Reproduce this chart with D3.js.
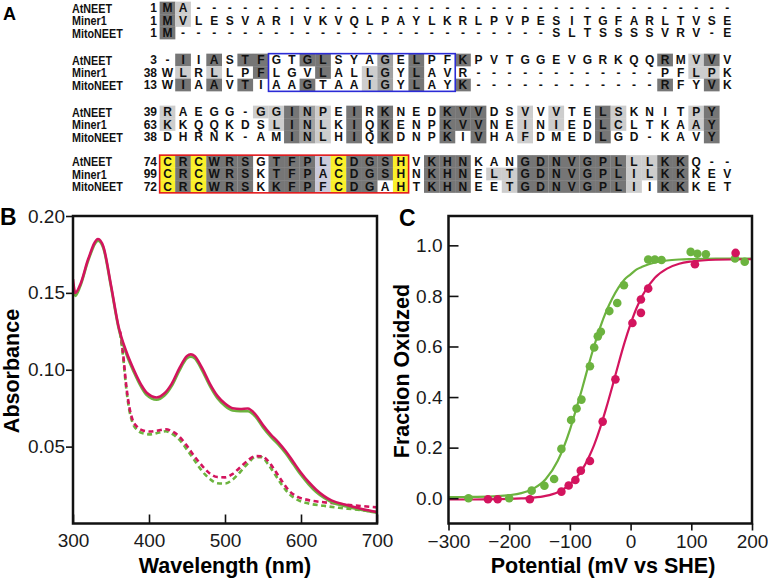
<!DOCTYPE html>
<html>
<head>
<meta charset="utf-8">
<script src="https://cdn.jsdelivr.net/npm/d3@7"></script>
<style>
  body { margin: 0; background: #fff; }
  svg { display: block; font-family: 'Liberation Sans', Arial, Helvetica, sans-serif; }
</style>
</head>
<body>
<svg id="fig" width="768" height="580"></svg>
<script>
'use strict';

/*
    Panel A: alignment of AtNEET / Miner1 / MitoNEET, panel B: absorbance spectra,
    panel C: redox titration
*/

// ---------- data : panel A ----------
var seqNames = ['AtNEET', 'Miner1', 'MitoNEET'];
var blockStarts = [[1, 1, 1], [3, 38, 13], [39, 63, 38], [74, 99, 72]];
var blockSeqs = [
    ['MA' + '-----' + '-----' + '-----' + '-----' + '-----' + '-----' + '-----',
     'MVLESVARIVKVQLPAYLKRLPVPESITGFARLTVSE',
     'M' + '------' + '------' + '------' + '------' + 'SLTSSSSVRV-E'],
    ['-IIASTFGTGLSYAGELPFKPVTGGEVGRKQQRMVVV',
     'WLRLLPFLGVLALLGYLAVR------------PFLPK',
     'WIAAVTIAAGTAAIGYLAYK------------RFYVK'],
    ['RAEGG-GGINPEIRKNEDKVVDSVVVTELSKNITPY',
     'KKQQKDSLINLKIQKENPKVVNEINIEDLCLTKAAY',
     'DHRNK-AMINLHIQKDNPKIVHAFDMEDLGD-KAVY'],
    ['CRCWRSGTFPLCDGSHVKHNKANGDNVGPLLLKKQ--',
     'CRCWRSKTFPACDGSHNKHNELTGDNVGPLILKKKEV',
     'CRCWRSKKFPFCDGAHTKHNEETGDNVGPLIIKKKET']
];
// conservation class per residue: d identical, m strong, l similar, b weak, y cysteine/histidine ligand
var blockShades = [
    ['dl', 'dl', 'd'],
    ['.d.d.dd..d' + 'd...m.d..d' + '..........' + '..d.ld.',
     '.l.l..d...' + 'd..lm.d...' + '..........' + '....ll.',
     '.d.d.d...d' + '...lm.d..d' + '..........' + '..d..d.'],
    ['l.....lldm' + 'l.d.d...dd' + 'd..l.l..dl' + '....ld',
     'l......ldm' + 'l.d.d...dd' + 'd..l.l..dl' + '....ld',
     '........dm' + 'l.d.d...d.' + 'd..l....d.' + '.....d'],
    ['ydyddd.ddd' + 'bydddy.ddd' + '...ddddddd' + 'lldd...',
     'ydyddd.ddd' + 'bydddy.ddd' + '.llddddddd' + 'lldd...',
     'ydyddd.ddd' + 'bydd.y.ddd' + '..lddddddd' + 'l.dd...']
];
var blueBoxCols = [7, 18];   // block 2
var redBoxCols = [0, 15];    // block 4

// ---------- data : panel B ----------
var wlSolid = [300, 303, 310, 320, 333, 340, 350, 360, 370, 380, 390, 397, 410, 420, 430, 440, 450, 455, 460, 470,
               480, 490, 500, 510, 520, 530, 540, 550, 560, 570, 580, 590, 600, 610, 620, 630, 640, 660, 680, 700];
var pinkSolid = [0.159, 0.150, 0.156, 0.172, 0.185, 0.180, 0.155, 0.128, 0.112, 0.100, 0.090, 0.085, 0.082, 0.0845,
                 0.091, 0.101, 0.109, 0.110, 0.109, 0.101, 0.091, 0.083, 0.078, 0.075, 0.0745, 0.0748, 0.071, 0.064,
                 0.058, 0.053, 0.047, 0.040, 0.033, 0.027, 0.022, 0.018, 0.015, 0.012, 0.0095, 0.0075];
var greenSolid = [0.155, 0.148, 0.155, 0.171, 0.184, 0.179, 0.154, 0.127, 0.1105, 0.0985, 0.0885, 0.0835, 0.0805,
                  0.083, 0.0895, 0.0995, 0.1075, 0.1085, 0.1075, 0.0995, 0.0895, 0.0815, 0.0765, 0.0735, 0.073, 0.073,
                  0.0695, 0.0625, 0.0565, 0.0515, 0.0455, 0.0385, 0.0315, 0.0255, 0.0205, 0.0168, 0.014, 0.011,
                  0.0088, 0.007];
var wlDashed = [362, 366, 370, 374, 378, 384, 392, 402, 412, 422, 430, 440, 450, 460, 470, 480, 490, 500, 510, 520,
                530, 540, 548, 556, 565, 575, 585, 595, 610, 630, 650, 670, 700];
var pinkDashed = [0.125, 0.110, 0.090, 0.076, 0.068, 0.063, 0.0605, 0.0598, 0.0605, 0.0613, 0.060, 0.0565, 0.0505,
                  0.0435, 0.0375, 0.0325, 0.0302, 0.030, 0.0322, 0.0365, 0.041, 0.0438, 0.0437, 0.041, 0.035, 0.0275,
                  0.021, 0.0175, 0.0152, 0.0138, 0.0128, 0.0118, 0.0105];
var greenDashed = [0.124, 0.108, 0.088, 0.074, 0.066, 0.061, 0.0587, 0.058, 0.059, 0.060, 0.0585, 0.0545, 0.048,
                   0.041, 0.034, 0.029, 0.0262, 0.026, 0.0285, 0.0335, 0.039, 0.0432, 0.0432, 0.039, 0.0325, 0.025,
                   0.019, 0.0155, 0.013, 0.0115, 0.0102, 0.0092, 0.0075];
var wlTicks = [300, 400, 500, 600, 700];
var absTicks = [0.05, 0.10, 0.15, 0.20];

// ---------- data : panel C ----------
var greenPts = [[-267, 0.0], [-200, 0.0], [-163, 0.03], [-142, 0.049], [-126, 0.076], [-114, 0.195], [-98, 0.309],
                [-89, 0.355], [-81, 0.39], [-67, 0.522], [-60, 0.596], [-54, 0.64], [-49, 0.658], [-35, 0.74],
                [-22, 0.772], [-11, 0.842], [29, 0.944], [40, 0.944], [51, 0.942], [99, 0.974], [110, 0.967],
                [124, 0.965], [172, 0.948], [188, 0.935]];
var pinkPts = [[-235, -0.004], [-219, -0.004], [-166, -0.004], [-114, 0.026], [-102, 0.05], [-91, 0.072],
               [-82, 0.109], [-67, 0.147], [-46, 0.303], [-25, 0.47], [3, 0.693], [17, 0.733], [17, 0.786],
               [29, 0.829], [106, 0.925], [173, 0.97]];
var fitE = [-300, -260, -220, -200, -180, -160, -140, -120, -100, -90, -80, -70, -60, -50, -40, -30, -20, -10, 0,
            10, 20, 40, 60, 80, 100, 140, 200];
var greenFit = [0.004, 0.005, 0.008, 0.012, 0.02, 0.038, 0.075, 0.148, 0.27, 0.35, 0.432, 0.52, 0.602, 0.677, 0.74,
                0.791, 0.833, 0.865, 0.885, 0.905, 0.916, 0.932, 0.94, 0.944, 0.946, 0.948, 0.948];
var pinkFit = [-0.005, -0.005, -0.004, -0.003, -0.001, 0.002, 0.009, 0.024, 0.055, 0.079, 0.112, 0.156, 0.211, 0.279,
               0.358, 0.443, 0.531, 0.615, 0.689, 0.753, 0.804, 0.872, 0.908, 0.927, 0.936, 0.943, 0.945];
var potTicks = [-300, -200, -100, 0, 100, 200];
var fracTicks = [0.0, 0.2, 0.4, 0.6, 0.8, 1.0];

// ---------- style ----------
var PINK = '#d3145e';
var GREEN = '#6cb33f';
var shadeColor = { d: '#767676', m: '#a2a2a2', l: '#cdcdcd', b: '#cacadb', y: '#faf02a' };

var svg = d3.select('#fig');

// ===== panel A =====
var colX = d3.scaleLinear().domain([0, 36]).range([167.5, 167.5 + 36 * 15.55]);
var blockTop = [8, 60, 112, 161.5];
var rowStep = 12.5;
var cellW = 15.7, cellH = 12.7;
var gA = svg.append('g');

//first the shaded cells, then the letters on top
var cells = [];
blockSeqs.forEach(function (rows, b) {
    rows.forEach(function (seq, r) {
        seq.split('').forEach(function (ch, i) {
            cells.push({ ch: ch, col: i, y: blockTop[b] + r * rowStep, s: blockShades[b][r].charAt(i) || '.' });
        });
    });
});

gA.selectAll('.cell')
    .data(cells.filter(function (d) { return d.s !== '.'; }))
  .enter().append('rect')
    .attr('class', 'cell')
    .attr('x', function (d) { return colX(d.col) - cellW / 2; })
    .attr('y', function (d) { return d.y - cellH / 2; })
    .attr('width', cellW)
    .attr('height', cellH)
    .attr('fill', function (d) { return shadeColor[d.s]; });

gA.selectAll('.res')
    .data(cells)
  .enter().append('text')
    .attr('class', 'res')
    .attr('x', function (d) { return colX(d.col); })
    .attr('y', function (d) { return d.y; })
    .attr('dy', '0.36em')
    .attr('text-anchor', 'middle')
    .attr('font-size', 12)
    .attr('font-weight', 'bold')
    .attr('fill', '#111')
    .text(function (d) { return d.ch; });

blockStarts.forEach(function (starts, b) {
    starts.forEach(function (n, r) {
        var y = blockTop[b] + r * rowStep;
        var nm = gA.append('text')
            .attr('x', 72).attr('y', y).attr('dy', '0.36em')
            .attr('font-size', 12.5).attr('font-weight', 'bold').attr('fill', '#111')
            .text(seqNames[r]);
        nm.attr('textLength', nm.node().getComputedTextLength() * 0.86).attr('lengthAdjust', 'spacingAndGlyphs');
        gA.append('text')
            .attr('x', 157).attr('y', y).attr('dy', '0.36em')
            .attr('text-anchor', 'end')
            .attr('font-size', 12).attr('font-weight', 'bold').attr('fill', '#111')
            .text(n);
    });
});

//boxes round the transmembrane segment and the CDGSH motif
function motifBox(cols, b, colour) {
    gA.append('rect')
        .attr('x', colX(cols[0]) - cellW / 2)
        .attr('y', blockTop[b] - cellH / 2)
        .attr('width', colX(cols[1]) - colX(cols[0]) + cellW)
        .attr('height', 2 * rowStep + cellH)
        .attr('fill', 'none')
        .attr('stroke', colour)
        .attr('stroke-width', 1.6);
}
motifBox(blueBoxCols, 1, '#2b2bd6');
motifBox(redBoxCols, 3, '#e3191c');

// panel letters
svg.append('text').attr('x', 3).attr('y', 20).attr('font-size', 18).attr('font-weight', 'bold').text('A');
svg.append('text').attr('x', 0).attr('y', 225).attr('font-size', 23).attr('font-weight', 'bold').text('B');
svg.append('text').attr('x', 399).attr('y', 226).attr('font-size', 23).attr('font-weight', 'bold').text('C');

// common axis styling
function styleAxis(g) {
    g.select('.domain').remove();
    g.selectAll('line').attr('stroke', '#111').attr('stroke-width', 1.6);
    g.selectAll('text').attr('font-size', 19).attr('fill', '#1a1a1a')
        .attr('font-family', "'Liberation Sans', Arial, sans-serif");
}

// ===== panel B =====
var xB = d3.scaleLinear().domain([300, 700]).range([73, 377]);
var yB = d3.scaleLinear().domain([0, 0.2]).range([523.5, 216]);
var gB = svg.append('g');

gB.append('clipPath').attr('id', 'clipB').append('rect')
    .attr('x', 73).attr('y', 216).attr('width', 304).attr('height', 307.5);

var lineB = d3.line()
    .x(function (d) { return xB(d[0]); })
    .y(function (d) { return yB(d[1]); })
    .curve(d3.curveMonotoneX);

var spectra = [
    { wl: wlDashed, a: greenDashed, c: GREEN, dash: '5,3.5' },
    { wl: wlDashed, a: pinkDashed, c: PINK, dash: '5,3.5' },
    { wl: wlSolid, a: greenSolid, c: GREEN, dash: null },
    { wl: wlSolid, a: pinkSolid, c: PINK, dash: null }
];
gB.selectAll('.spec')
    .data(spectra)
  .enter().append('path')
    .attr('class', 'spec')
    .attr('clip-path', 'url(#clipB)')
    .attr('d', function (s) { return lineB(s.wl.map(function (w, i) { return [w, s.a[i]]; })); })
    .attr('fill', 'none')
    .attr('stroke', function (s) { return s.c; })
    .attr('stroke-width', 2.6)
    .attr('stroke-dasharray', function (s) { return s.dash; });

gB.append('g').attr('transform', 'translate(0,523.5)')
    .call(d3.axisBottom(xB).tickValues(wlTicks).tickSizeInner(-9).tickSizeOuter(0).tickPadding(10))
    .call(styleAxis);
gB.append('g').attr('transform', 'translate(73,0)')
    .call(d3.axisLeft(yB).tickValues(absTicks).tickFormat(d3.format('.2f')).tickSizeInner(7).tickSizeOuter(0).tickPadding(1))
    .call(styleAxis);

gB.append('rect')
    .attr('x', 73).attr('y', 216).attr('width', 304).attr('height', 307.5)
    .attr('fill', 'none').attr('stroke', '#111').attr('stroke-width', 2.5);

gB.append('text')
    .attr('x', 225).attr('y', 573)
    .attr('text-anchor', 'middle').attr('font-size', 21.5).attr('font-weight', 'bold')
    .text('Wavelength (nm)');
gB.append('text')
    .attr('transform', 'translate(18.5,371) rotate(-90)')
    .attr('text-anchor', 'middle').attr('font-size', 21.5).attr('font-weight', 'bold')
    .text('Absorbance');

// ===== panel C =====
var xC = d3.scaleLinear().domain([-300, 200]).range([448.5, 752]);
var yC = d3.scaleLinear().domain([-0.1, 1.116]).range([523.5, 216]);
var gC = svg.append('g');

gC.append('clipPath').attr('id', 'clipC').append('rect')
    .attr('x', 448.5).attr('y', 216).attr('width', 303.5).attr('height', 307.5);

var lineC = d3.line()
    .x(function (d) { return xC(d[0]); })
    .y(function (d) { return yC(d[1]); })
    .curve(d3.curveMonotoneX);

var fits = [{ f: greenFit, c: GREEN }, { f: pinkFit, c: PINK }];
gC.selectAll('.fit')
    .data(fits)
  .enter().append('path')
    .attr('class', 'fit')
    .attr('clip-path', 'url(#clipC)')
    .attr('d', function (s) { return lineC(fitE.map(function (e, i) { return [e, s.f[i]]; })); })
    .attr('fill', 'none')
    .attr('stroke', function (s) { return s.c; })
    .attr('stroke-width', 2.2);

gC.selectAll('.gdot')
    .data(greenPts)
  .enter().append('circle')
    .attr('class', 'gdot')
    .attr('cx', function (d) { return xC(d[0]); })
    .attr('cy', function (d) { return yC(d[1]); })
    .attr('r', 4.3)
    .attr('fill', GREEN);

gC.selectAll('.pdot')
    .data(pinkPts)
  .enter().append('circle')
    .attr('class', 'pdot')
    .attr('cx', function (d) { return xC(d[0]); })
    .attr('cy', function (d) { return yC(d[1]); })
    .attr('r', 4.3)
    .attr('fill', PINK);

gC.append('g').attr('transform', 'translate(0,523.5)')
    .call(d3.axisBottom(xC).tickValues(potTicks).tickSizeInner(7).tickSizeOuter(0).tickPadding(4))
    .call(styleAxis);
gC.append('g').attr('transform', 'translate(448.5,0)')
    .call(d3.axisLeft(yC).tickValues(fracTicks).tickFormat(d3.format('.1f')).tickSizeInner(-10).tickSizeOuter(0).tickPadding(6))
    .call(styleAxis);

gC.append('rect')
    .attr('x', 448.5).attr('y', 216).attr('width', 303.5).attr('height', 307.5)
    .attr('fill', 'none').attr('stroke', '#111').attr('stroke-width', 2.5);

gC.append('text')
    .attr('x', 603).attr('y', 573)
    .attr('text-anchor', 'middle').attr('font-size', 21.5).attr('font-weight', 'bold')
    .text('Potential (mV vs SHE)');
gC.append('text')
    .attr('transform', 'translate(408.5,371) rotate(-90)')
    .attr('text-anchor', 'middle').attr('font-size', 21.5).attr('font-weight', 'bold')
    .text('Fraction Oxidzed');
</script>
</body>
</html>
